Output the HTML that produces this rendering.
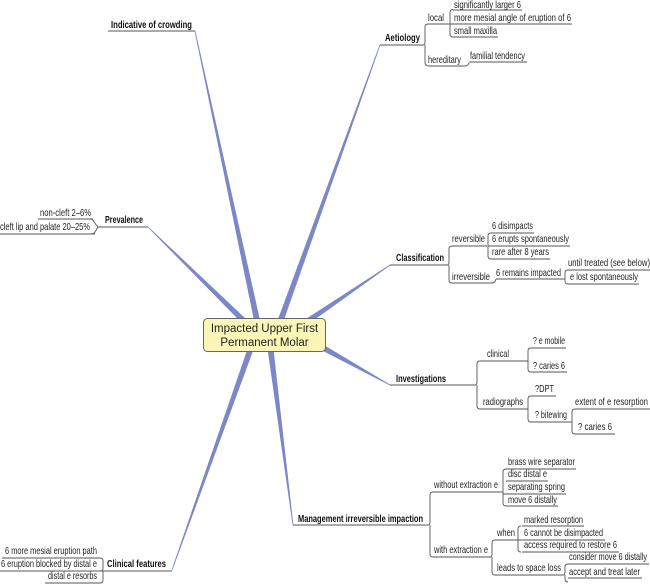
<!DOCTYPE html>
<html><head><meta charset="utf-8"><style>
html,body{margin:0;padding:0;background:#fff;}
svg{display:block;}
text{font-family:"Liberation Sans Narrow","Liberation Sans",sans-serif;font-size:10.5px;fill:#222;}
.b{font-weight:bold;fill:#111;}
</style></head><body>
<svg id="s" width="650" height="585" viewBox="0 0 650 585" xmlns="http://www.w3.org/2000/svg">
<g id="spokes" fill="#7c87c6"></g>
<g id="lines" fill="none" stroke="#555" stroke-width="0.9"></g>
<g id="texts"></g>
<rect x="203.5" y="318.5" width="122" height="33" rx="4" fill="#fbf6b8" stroke="#666" stroke-width="1"/>
<text x="264.5" y="332" text-anchor="middle" style="font-family:'Liberation Sans',sans-serif;font-size:11.5px">Impacted Upper First</text>
<text x="264.5" y="346" text-anchor="middle" style="font-family:'Liberation Sans',sans-serif;font-size:11.5px">Permanent Molar</text>
</svg>
<script>
var NS="http://www.w3.org/2000/svg";
function el(p,n,a){var e=document.createElementNS(NS,n);for(var k in a)e.setAttribute(k,a[k]);document.getElementById(p).appendChild(e);return e;}
[[258,325,195,31],[279,325,380,45],[248,325,148,227],[302,325,390,265],[318,345,390,385],[270,345,293,525],[252,345,172,570]].forEach(function(s){
 var dx=s[2]-s[0],dy=s[3]-s[1],L=Math.hypot(dx,dy),nx=-dy/L,ny=dx/L,w0=3,w1=0.4;
 el("spokes","polygon",{points:[s[0]+nx*w0,s[1]+ny*w0,s[2]+nx*w1,s[3]+ny*w1,s[2]-nx*w1,s[3]-ny*w1,s[0]-nx*w0,s[1]-ny*w0].join(",")});
});
function line(d){el("lines","path",{d:d});}
function ul(x1,x2,y){line("M"+x1+" "+y+"H"+x2);}
function br(bx,yt,yb){line("M"+(bx+3)+" "+yt+"Q"+bx+" "+yt+" "+bx+" "+(yt+3)+"V"+(yb-3)+"Q"+bx+" "+yb+" "+(bx+3)+" "+yb);}
function t(x,y,s,end,bold){var a={x:x,y:y};if(end){a.textLength=end-x;a.lengthAdjust="spacingAndGlyphs";}if(bold)a["class"]="b";el("texts","text",a).textContent=s;}
t(111,28,"Indicative of crowding",192,1);ul(108,195,31);
t(385,41,"Aetiology",420,1);ul(380,423,45);
line("M423 45 Q425 45 425 42 V27 Q425 24 428 24");line("M425 45 V62 Q425 66 429 66");
t(428,21,"local",444);ul(428,448,24);br(450,9.5,37);line("M448 24 H450");
t(454,8,"significantly larger 6",521);ul(453,522,10);
t(454,21,"more mesial angle of eruption of 6",571);ul(450,572,24);
t(454,34,"small maxilla",497);ul(453,498,37);
t(428,63,"hereditary",461);ul(429,465,66);line("M465 66 Q468 66 469 63");
t(470,59,"familial tendency",525);ul(469,527,62);
t(105,223,"Prevalence",143,1);ul(98,148,227);
line("M98 227 L94 222 Q93 219 90 219");line("M98 227 L95 232 Q94 234 90 234");
t(40,216,"non-cleft 2–6%",91);ul(38,93,219);
t(0,230,"cleft lip and palate 20–25%",90);ul(0,95,234);
t(396,261,"Classification",444,1);ul(390,447,265);
line("M447 265 Q449 265 449 262 V249 Q449 246 452 246");line("M449 265 V280 Q449 283 452 283");
t(452,242,"reversible",485);ul(452,487,246);br(488,233,259);
t(492,229,"6 disimpacts",533);ul(491,534,233);
t(492,242,"6 erupts spontaneously",569);ul(488,570,246);
t(492,255,"rare after 8 years",549);ul(491,550,259);
t(452,280,"irreversible",490);ul(452,492,283);line("M492 283 Q495 283 496 279");
t(496,276,"6 remains impacted",561);ul(496,563,279);br(565,270,284);line("M563 279 H565");
t(568,266,"until treated (see below)",650);ul(568,650,270);
t(570,280,"e lost spontaneously",638);ul(568,639,284);
t(396,382,"Investigations",446,1);ul(390,475,385);
line("M475 385 Q477 385 477 382 V364 Q477 361 480 361");line("M477 385 V406 Q477 409 480 409");
t(487,357,"clinical",509);ul(480,527,361);br(528,348,372);line("M527 361H528");
t(533,344,"? e mobile",565);ul(531,566,348);
t(533,369,"? caries 6",565);ul(531,567,372);
t(483,405,"radiographs",523);ul(480,527,409);br(528,396,422);line("M527 409H528");
t(535,392,"?DPT",554);ul(531,556,396);
t(535,418,"? bitewing",567);ul(531,570,422);br(572,409,434);line("M570 422H572");
t(575,405,"extent of e resorption",648);ul(575,650,409);
t(578,430,"? caries 6",612);ul(575,615,434);
t(298,522,"Management irreversible impaction",423,1);ul(293,428,525);
line("M428 525 Q430 525 430 522 V495 Q430 492 433 492");line("M430 525 V554 Q430 557 433 557");
t(434,488,"without extraction e",498);ul(433,501,492);br(503,469,506);line("M501 492H503");
t(508,465,"brass wire separator",575);ul(506,576,469);
t(508,477,"disc distal e",547);ul(506,548,481);
t(508,490,"separating spring",565);ul(503,566,494);
t(508,503,"move 6 distally",557);ul(506,558,506);
t(434,553,"with extraction e",488);ul(433,490,557);line("M490 557 Q492 557 492 554 V543 Q492 540 495 540");line("M492 557 V572 Q492 575 495 575");
t(497,536,"when",515);ul(495,517,540);br(518,526,552);line("M517 540H518");
t(524,523,"marked resorption",583);ul(522,584,526);
t(524,536,"6 cannot be disimpacted",603);ul(518,605,540);
t(524,548,"access required to restore 6",617);ul(522,619,552);
t(497,571,"leads to space loss",561);ul(495,563,575);line("M563 575 Q565 575 565 572 V567 Q565 564 568 564");line("M565 575 V579 Q565 582 568 582");
t(569,560,"consider move 6 distally",647);ul(568,649,564);
t(569,575,"accept and treat later",640);ul(568,642,578);
t(107,567,"Clinical features",166,1);ul(100,172,571);
line("M101 571 Q103 571 103 568 V561 Q103 558 100 558");line("M103 571 V580 Q103 583 100 583");
t(5,554,"6 more mesial eruption path",97);ul(2,100,558);
t(1,567,"6 eruption blocked by distal e",97);ul(0,100,571);
t(48,579,"distal e resorbs",97);ul(45,100,583);
</script>
</body></html>
